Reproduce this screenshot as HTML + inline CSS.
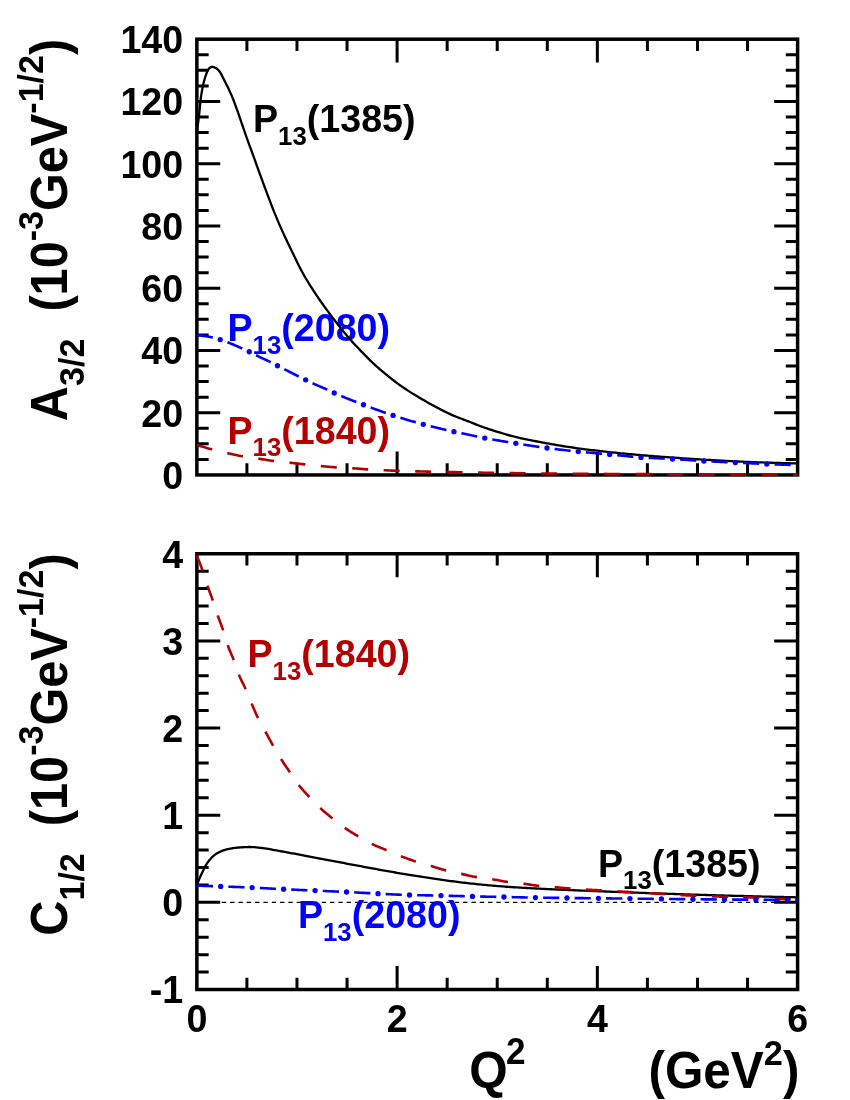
<!DOCTYPE html>
<html><head><meta charset="utf-8"><title>chart</title>
<style>html,body{margin:0;padding:0;background:#fff}svg{display:block;will-change:transform}text{font-family:"Liberation Sans",sans-serif;font-weight:bold}</style>
</head><body>
<svg width="850" height="1100" viewBox="0 0 850 1100">
<g id="top">
<rect x="196.85" y="39.2" width="600.75" height="435.75" fill="none" stroke="#000" stroke-width="3.5"/>
<path d="M246.91 474.95 v-11.8 M246.91 39.2 v11.8 M296.98 474.95 v-11.8 M296.98 39.2 v11.8 M347.04 474.95 v-11.8 M347.04 39.2 v11.8 M397.1 474.95 v-23.4 M397.1 39.2 v23.4 M447.16 474.95 v-11.8 M447.16 39.2 v11.8 M497.23 474.95 v-11.8 M497.23 39.2 v11.8 M547.29 474.95 v-11.8 M547.29 39.2 v11.8 M597.35 474.95 v-23.4 M597.35 39.2 v23.4 M647.41 474.95 v-11.8 M647.41 39.2 v11.8 M697.48 474.95 v-11.8 M697.48 39.2 v11.8 M747.54 474.95 v-11.8 M747.54 39.2 v11.8 M196.85 459.39 h11.8 M797.6 459.39 h-11.8 M196.85 443.82 h11.8 M797.6 443.82 h-11.8 M196.85 428.26 h11.8 M797.6 428.26 h-11.8 M196.85 412.7 h23.4 M797.6 412.7 h-23.4 M196.85 397.14 h11.8 M797.6 397.14 h-11.8 M196.85 381.57 h11.8 M797.6 381.57 h-11.8 M196.85 366.01 h11.8 M797.6 366.01 h-11.8 M196.85 350.45 h23.4 M797.6 350.45 h-23.4 M196.85 334.89 h11.8 M797.6 334.89 h-11.8 M196.85 319.32 h11.8 M797.6 319.32 h-11.8 M196.85 303.76 h11.8 M797.6 303.76 h-11.8 M196.85 288.2 h23.4 M797.6 288.2 h-23.4 M196.85 272.64 h11.8 M797.6 272.64 h-11.8 M196.85 257.07 h11.8 M797.6 257.07 h-11.8 M196.85 241.51 h11.8 M797.6 241.51 h-11.8 M196.85 225.95 h23.4 M797.6 225.95 h-23.4 M196.85 210.39 h11.8 M797.6 210.39 h-11.8 M196.85 194.82 h11.8 M797.6 194.82 h-11.8 M196.85 179.26 h11.8 M797.6 179.26 h-11.8 M196.85 163.7 h23.4 M797.6 163.7 h-23.4 M196.85 148.14 h11.8 M797.6 148.14 h-11.8 M196.85 132.57 h11.8 M797.6 132.57 h-11.8 M196.85 117.01 h11.8 M797.6 117.01 h-11.8 M196.85 101.45 h23.4 M797.6 101.45 h-23.4 M196.85 85.89 h11.8 M797.6 85.89 h-11.8 M196.85 70.32 h11.8 M797.6 70.32 h-11.8 M196.85 54.76 h11.8 M797.6 54.76 h-11.8" fill="none" stroke="#000" stroke-width="3"/>
<text transform="translate(183.2 488.75) scale(0.97 1)" font-size="38.8" text-anchor="end">0</text>
<text transform="translate(183.2 426.5) scale(0.97 1)" font-size="38.8" text-anchor="end">20</text>
<text transform="translate(183.2 364.25) scale(0.97 1)" font-size="38.8" text-anchor="end">40</text>
<text transform="translate(183.2 302) scale(0.97 1)" font-size="38.8" text-anchor="end">60</text>
<text transform="translate(183.2 239.75) scale(0.97 1)" font-size="38.8" text-anchor="end">80</text>
<text transform="translate(183.2 177.5) scale(0.97 1)" font-size="38.8" text-anchor="end">100</text>
<text transform="translate(183.2 115.25) scale(0.97 1)" font-size="38.8" text-anchor="end">120</text>
<text transform="translate(183.2 53) scale(0.97 1)" font-size="38.8" text-anchor="end">140</text>
<text transform="translate(67.4 38.8) scale(1.05 1) rotate(-90)" font-size="48.65" text-anchor="end" xml:space="preserve">A<tspan font-size="34.05" dy="15.85">3/2</tspan><tspan font-size="48.65" dy="-15.85">  (10</tspan><tspan font-size="34.05" dy="-23.2">-3</tspan><tspan font-size="48.65" dy="23.2">GeV</tspan><tspan font-size="34.05" dy="-23.2">-1/2</tspan><tspan font-size="48.65" dy="23.2">)</tspan></text>
<text transform="translate(253 132) scale(0.97 1)" font-size="38.8" fill="#000">P<tspan font-size="26.6" dy="12.9">13</tspan><tspan font-size="38.8" dy="-12.9">(1385)</tspan></text>
<text transform="translate(227.5 341.4) scale(0.97 1)" font-size="38.8" fill="#0000ff">P<tspan font-size="26.6" dy="12.9">13</tspan><tspan font-size="38.8" dy="-12.9">(2080)</tspan></text>
<text transform="translate(227.5 443.5) scale(0.97 1)" font-size="38.8" fill="#b40000">P<tspan font-size="26.6" dy="12.9">13</tspan><tspan font-size="38.8" dy="-12.9">(1840)</tspan></text>
<path d="M196.85 132.00 L196.93 131.50 L197.06 130.56 L197.24 129.32 L197.45 127.82 L197.69 126.06 L197.96 124.05 L198.24 121.80 L198.55 119.30 L198.88 116.54 L199.23 113.50 L199.59 110.10 L199.98 105.95 L200.37 101.78 L200.79 98.48 L201.22 95.44 L201.66 92.59 L202.12 89.93 L202.59 87.46 L203.08 85.15 L203.57 82.99 L204.09 80.96 L204.61 79.07 L205.14 77.30 L205.69 75.63 L206.25 74.02 L206.82 72.50 L207.40 71.16 L207.99 70.08 L208.59 69.12 L209.20 68.28 L209.83 67.70 L210.46 67.38 L211.10 67.12 L211.76 66.95 L212.42 66.90 L213.09 67.00 L213.77 67.21 L214.46 67.45 L215.16 67.72 L215.87 68.06 L216.59 68.49 L217.32 69.05 L218.05 69.75 L218.79 70.59 L219.55 71.53 L220.31 72.59 L221.08 73.89 L221.85 75.38 L222.64 76.98 L223.43 78.58 L224.23 80.13 L225.04 81.69 L225.86 83.28 L226.69 84.91 L227.52 86.59 L228.36 88.34 L229.21 90.14 L230.06 91.99 L230.92 93.91 L231.79 95.91 L232.67 98.02 L233.56 100.26 L234.45 102.62 L235.35 105.08 L236.25 107.58 L237.16 110.11 L238.08 112.70 L239.01 115.35 L239.94 118.04 L240.88 120.77 L241.83 123.52 L242.79 126.34 L243.75 129.17 L244.71 131.99 L245.69 134.77 L246.67 137.52 L247.65 140.27 L248.65 143.02 L249.64 145.77 L250.65 148.52 L251.66 151.27 L252.68 154.03 L253.70 156.84 L254.73 159.70 L255.77 162.60 L256.81 165.52 L257.86 168.45 L258.92 171.35 L259.98 174.26 L261.05 177.17 L262.12 180.09 L263.20 183.03 L264.28 185.98 L265.37 188.94 L266.47 191.89 L267.57 194.84 L268.68 197.77 L269.79 200.70 L270.91 203.65 L272.04 206.58 L273.17 209.49 L274.30 212.35 L275.45 215.17 L276.59 217.93 L277.75 220.66 L278.91 223.35 L280.07 226.02 L281.24 228.65 L282.41 231.27 L283.59 233.87 L284.78 236.44 L285.97 238.98 L287.17 241.50 L288.37 244.00 L289.57 246.49 L290.79 248.98 L292.00 251.47 L293.23 253.98 L294.45 256.52 L295.69 259.08 L296.92 261.63 L298.17 264.17 L299.42 266.67 L300.67 269.12 L301.93 271.48 L303.19 273.77 L304.46 276.02 L305.73 278.22 L307.01 280.38 L308.30 282.50 L309.58 284.60 L310.88 286.67 L312.18 288.71 L313.48 290.74 L314.79 292.74 L316.10 294.71 L317.42 296.65 L318.74 298.57 L320.07 300.47 L321.40 302.36 L322.74 304.24 L324.08 306.11 L325.42 307.97 L326.77 309.82 L328.13 311.65 L329.49 313.47 L330.86 315.29 L332.23 317.09 L333.60 318.89 L334.98 320.68 L336.36 322.47 L337.75 324.26 L339.14 326.05 L340.54 327.84 L341.94 329.62 L343.35 331.39 L344.76 333.13 L346.17 334.85 L347.59 336.53 L349.02 338.17 L350.45 339.79 L351.88 341.38 L353.32 342.95 L354.76 344.49 L356.21 346.03 L357.66 347.56 L359.11 349.08 L360.57 350.60 L362.04 352.12 L363.51 353.64 L364.98 355.15 L366.46 356.66 L367.94 358.15 L369.42 359.62 L370.91 361.08 L372.41 362.51 L373.90 363.91 L375.41 365.29 L376.91 366.64 L378.42 367.98 L379.94 369.30 L381.46 370.61 L382.98 371.89 L384.51 373.16 L386.04 374.42 L387.58 375.66 L389.12 376.89 L390.66 378.12 L392.21 379.33 L393.76 380.53 L395.32 381.72 L396.88 382.90 L398.45 384.06 L400.02 385.20 L401.59 386.33 L403.17 387.43 L404.75 388.51 L406.33 389.56 L407.92 390.60 L409.51 391.62 L411.11 392.63 L412.71 393.62 L414.32 394.60 L415.92 395.57 L417.54 396.54 L419.15 397.50 L420.77 398.46 L422.40 399.41 L424.03 400.36 L425.66 401.30 L427.30 402.23 L428.94 403.15 L430.58 404.07 L432.23 404.97 L433.88 405.87 L435.54 406.75 L437.20 407.63 L438.86 408.51 L440.53 409.39 L442.20 410.26 L443.87 411.12 L445.55 411.96 L447.23 412.79 L448.92 413.60 L450.61 414.38 L452.30 415.13 L454.00 415.85 L455.70 416.55 L457.41 417.23 L459.11 417.89 L460.83 418.53 L462.54 419.17 L464.26 419.81 L465.99 420.46 L467.71 421.11 L469.44 421.78 L471.18 422.47 L472.92 423.18 L474.66 423.90 L476.40 424.61 L478.15 425.30 L479.90 425.96 L481.66 426.60 L483.42 427.23 L485.18 427.84 L486.95 428.45 L488.72 429.05 L490.50 429.63 L492.27 430.21 L494.06 430.78 L495.84 431.34 L497.63 431.89 L499.42 432.43 L501.22 432.96 L503.02 433.49 L504.82 434.01 L506.63 434.53 L508.43 435.04 L510.25 435.54 L512.07 436.02 L513.89 436.50 L515.71 436.97 L517.54 437.42 L519.37 437.85 L521.20 438.27 L523.04 438.68 L524.88 439.07 L526.72 439.45 L528.57 439.82 L530.42 440.18 L532.28 440.54 L534.14 440.89 L536.00 441.25 L537.86 441.60 L539.73 441.95 L541.60 442.30 L543.48 442.66 L545.36 443.01 L547.24 443.36 L549.13 443.71 L551.02 444.05 L552.91 444.39 L554.80 444.72 L556.70 445.05 L558.60 445.37 L560.51 445.68 L562.42 445.99 L564.33 446.30 L566.25 446.60 L568.17 446.90 L570.09 447.19 L572.01 447.48 L573.94 447.76 L575.88 448.03 L577.81 448.30 L579.75 448.57 L581.69 448.82 L583.64 449.07 L585.59 449.31 L587.54 449.55 L589.49 449.79 L591.45 450.02 L593.41 450.24 L595.38 450.47 L597.34 450.70 L599.32 450.92 L601.29 451.15 L603.27 451.38 L605.25 451.60 L607.23 451.83 L609.22 452.06 L611.21 452.28 L613.20 452.50 L615.20 452.71 L617.20 452.92 L619.20 453.12 L621.21 453.32 L623.22 453.51 L625.23 453.70 L627.25 453.89 L629.27 454.07 L631.29 454.26 L633.32 454.44 L635.34 454.62 L637.38 454.80 L639.41 454.98 L641.45 455.15 L643.49 455.32 L645.53 455.50 L647.58 455.66 L649.63 455.83 L651.69 456.00 L653.74 456.16 L655.80 456.33 L657.86 456.49 L659.93 456.65 L662.00 456.80 L664.07 456.96 L666.15 457.12 L668.22 457.27 L670.30 457.42 L672.39 457.57 L674.48 457.72 L676.57 457.87 L678.66 458.02 L680.76 458.16 L682.86 458.31 L684.96 458.45 L687.06 458.59 L689.17 458.73 L691.28 458.87 L693.40 459.00 L695.52 459.14 L697.64 459.27 L699.76 459.40 L701.89 459.53 L704.01 459.65 L706.15 459.78 L708.28 459.90 L710.42 460.02 L712.56 460.14 L714.71 460.27 L716.85 460.39 L719.00 460.51 L721.16 460.62 L723.31 460.74 L725.47 460.86 L727.63 460.97 L729.80 461.09 L731.97 461.20 L734.14 461.30 L736.31 461.41 L738.49 461.51 L740.67 461.61 L742.85 461.71 L745.04 461.80 L747.23 461.89 L749.42 461.98 L751.61 462.06 L753.81 462.14 L756.01 462.22 L758.21 462.30 L760.42 462.38 L762.62 462.45 L764.84 462.53 L767.05 462.60 L769.27 462.67 L771.49 462.74 L773.71 462.81 L775.94 462.88 L778.17 462.94 L780.40 463.00 L782.63 463.06 L784.87 463.12 L787.11 463.18 L789.35 463.23 L791.60 463.28 L793.85 463.33 L796.10 463.37" fill="none" stroke="#000" stroke-width="2.3" stroke-linejoin="round"/>
<path d="M196.85 445.00 L196.86 445.00 L197.38 445.17 L198.24 445.44 L199.35 445.78 L200.65 446.18 L202.12 446.62 L203.74 447.10 L205.51 447.61 L207.40 448.15 L209.41 448.71 L211.54 449.28 L212.22 449.46 M227.29 453.07 L227.52 453.12 L228.92 453.44 L230.35 453.76 L231.79 454.09 L233.26 454.42 L234.75 454.75 L236.25 455.08 L237.78 455.40 L239.32 455.71 L240.88 456.02 L242.47 456.31 L242.94 456.39 M258.27 458.64 L258.57 458.68 L259.98 458.90 L261.40 459.12 L262.84 459.35 L264.28 459.58 L265.74 459.81 L267.20 460.04 L268.68 460.26 L270.17 460.48 L271.66 460.69 L273.17 460.89 L274.09 461.01 M289.51 462.66 L289.57 462.66 L291.19 462.84 L292.82 463.02 L294.45 463.21 L296.10 463.40 L297.75 463.59 L299.42 463.78 L301.09 463.96 L302.77 464.15 L304.46 464.34 L305.41 464.44 M320.82 466.08 L320.95 466.09 L322.29 466.21 L323.63 466.33 L324.97 466.45 L326.32 466.57 L327.68 466.69 L329.04 466.80 L330.40 466.92 L331.77 467.02 L333.14 467.13 L334.52 467.23 L335.90 467.33 L336.77 467.38 M352.24 468.24 L352.36 468.25 L353.80 468.35 L355.24 468.45 L356.69 468.56 L358.14 468.67 L359.60 468.79 L361.06 468.90 L362.53 469.02 L364.00 469.13 L365.47 469.23 L366.95 469.33 L368.20 469.41 M383.68 470.20 L384.00 470.22 L385.53 470.29 L387.07 470.37 L388.61 470.44 L390.15 470.51 L391.70 470.58 L393.25 470.65 L394.80 470.72 L396.36 470.78 L397.92 470.84 L399.49 470.90 L399.66 470.90 M415.16 471.30 L415.39 471.31 L417.00 471.35 L418.61 471.39 L420.23 471.44 L421.86 471.48 L423.48 471.52 L425.12 471.56 L426.75 471.60 L428.39 471.64 L430.03 471.68 L431.15 471.70 M446.65 471.99 L446.67 471.99 L448.36 472.03 L450.04 472.06 L451.74 472.09 L453.43 472.13 L455.13 472.16 L456.84 472.19 L458.54 472.23 L460.26 472.26 L461.97 472.29 L462.65 472.30 M478.14 472.60 L478.15 472.60 L479.90 472.63 L481.66 472.66 L483.42 472.70 L485.18 472.74 L486.95 472.77 L488.72 472.81 L490.50 472.84 L492.27 472.87 L494.06 472.90 L494.14 472.90 M509.64 473.11 L509.64 473.11 L510.85 473.12 L512.07 473.14 L513.28 473.15 L514.49 473.17 L515.71 473.18 L516.93 473.20 L518.15 473.21 L519.37 473.22 L520.59 473.24 L521.81 473.25 L523.04 473.26 L524.27 473.28 L525.49 473.29 L525.64 473.29 M541.14 473.44 L541.60 473.45 L542.85 473.46 L544.11 473.47 L545.36 473.48 L546.61 473.49 L547.87 473.50 L549.13 473.51 L550.39 473.52 L551.65 473.53 L552.91 473.54 L554.17 473.55 L555.44 473.56 L556.70 473.57 L557.14 473.58 M572.64 473.70 L572.66 473.70 L573.94 473.71 L575.23 473.72 L576.52 473.72 L577.81 473.73 L579.10 473.74 L580.40 473.75 L581.69 473.76 L582.99 473.77 L584.29 473.78 L585.59 473.79 L586.89 473.80 L588.19 473.81 L588.64 473.81 M604.14 473.91 L604.59 473.91 L605.91 473.92 L607.23 473.93 L608.56 473.93 L609.88 473.94 L611.21 473.95 L612.54 473.96 L613.87 473.96 L615.20 473.97 L616.53 473.98 L617.87 473.99 L619.20 473.99 L620.14 474.00 M635.64 474.08 L636.02 474.08 L637.38 474.09 L638.73 474.09 L640.09 474.10 L641.45 474.11 L642.81 474.11 L644.17 474.12 L645.53 474.13 L646.90 474.13 L648.26 474.14 L649.63 474.14 L651.00 474.15 L651.64 474.15 M667.14 474.22 L667.53 474.22 L668.92 474.22 L670.30 474.23 L671.69 474.23 L673.08 474.24 L674.48 474.25 L675.87 474.25 L677.26 474.26 L678.66 474.26 L680.06 474.27 L681.46 474.27 L682.86 474.28 L683.14 474.28 M698.64 474.33 L699.05 474.33 L700.47 474.34 L701.89 474.34 L703.30 474.35 L704.73 474.35 L706.15 474.36 L707.57 474.36 L709.00 474.37 L710.42 474.37 L711.85 474.37 L713.28 474.38 L714.64 474.38 M730.14 474.43 L730.52 474.43 L731.97 474.44 L733.41 474.44 L734.86 474.44 L736.31 474.45 L737.76 474.45 L739.22 474.46 L740.67 474.46 L742.12 474.46 L743.58 474.47 L745.04 474.47 L746.14 474.48 M761.64 474.52 L761.89 474.52 L763.36 474.52 L764.84 474.53 L766.31 474.53 L767.79 474.53 L769.27 474.54 L770.75 474.54 L772.23 474.54 L773.71 474.55 L775.19 474.55 L776.68 474.55 L777.64 474.56 M793.14 474.59 L793.85 474.59 L794.60 474.59 L795.35 474.60 L796.10 474.60 L796.85 474.60 L797.60 474.60" fill="none" stroke="#b40000" stroke-width="2.6"/>
<path d="M196.85 335.00 L196.86 335.00 L197.38 335.05 L198.24 335.13 L199.35 335.25 L200.65 335.41 L202.12 335.61 L203.74 335.86 L205.51 336.15 L207.40 336.49 L209.41 336.87 L211.54 337.30 L212.84 337.57 M227.41 342.16 L227.52 342.20 L228.92 342.76 L230.35 343.35 L231.79 343.95 L233.26 344.57 L234.75 345.21 L236.25 345.87 L237.78 346.55 L239.32 347.23 L240.88 347.93 L242.29 348.55 M256.05 355.23 L256.12 355.26 L257.51 355.95 L258.92 356.63 L260.33 357.31 L261.76 357.98 L263.20 358.66 L264.65 359.34 L266.10 360.03 L267.57 360.73 L269.05 361.44 L270.54 362.17 L270.66 362.23 M284.31 369.15 L284.38 369.19 L285.57 369.79 L286.77 370.40 L287.97 371.01 L289.17 371.63 L290.38 372.25 L291.60 372.87 L292.82 373.49 L294.04 374.11 L295.28 374.74 L296.51 375.36 L297.75 375.98 L298.76 376.48 M312.49 383.23 L312.61 383.28 L313.91 383.88 L315.22 384.47 L316.54 385.04 L317.86 385.61 L319.18 386.17 L320.51 386.73 L321.84 387.30 L323.18 387.87 L324.53 388.45 L325.87 389.04 L327.23 389.64 L327.34 389.70 M341.25 396.06 L341.47 396.15 L342.88 396.73 L344.29 397.31 L345.70 397.88 L347.12 398.45 L348.54 399.02 L349.97 399.58 L351.40 400.14 L352.84 400.70 L354.28 401.25 L355.72 401.81 L356.31 402.03 M370.61 407.45 L370.91 407.56 L372.41 408.12 L373.90 408.68 L375.41 409.24 L376.91 409.79 L378.42 410.34 L379.94 410.89 L381.46 411.44 L382.98 411.98 L384.51 412.52 L385.84 412.99 M400.38 417.75 L400.54 417.80 L402.11 418.29 L403.69 418.77 L405.27 419.26 L406.86 419.73 L408.45 420.21 L410.04 420.68 L411.64 421.14 L413.25 421.60 L414.85 422.06 L415.91 422.36 M430.70 426.27 L431.13 426.38 L432.78 426.79 L434.43 427.19 L436.09 427.59 L437.75 427.99 L439.41 428.38 L441.08 428.77 L442.75 429.16 L444.43 429.54 L446.11 429.93 L446.46 430.01 M461.41 433.25 L461.97 433.36 L463.12 433.59 L464.26 433.83 L465.41 434.06 L466.56 434.29 L467.71 434.53 L468.87 434.77 L470.02 435.00 L471.18 435.25 L472.34 435.49 L473.50 435.74 L474.66 435.99 L475.82 436.24 L476.99 436.49 L477.27 436.55 M492.29 439.45 L492.87 439.55 L494.06 439.76 L495.25 439.97 L496.44 440.18 L497.63 440.39 L498.82 440.59 L500.02 440.79 L501.22 441.00 L502.42 441.20 L503.62 441.40 L504.82 441.59 L506.02 441.79 L507.23 441.99 L508.27 442.16 M523.38 444.56 L523.65 444.61 L524.88 444.80 L526.11 444.99 L527.34 445.18 L528.57 445.37 L529.81 445.56 L531.04 445.74 L532.28 445.93 L533.52 446.12 L534.76 446.30 L536.00 446.48 L537.24 446.66 L538.49 446.84 L539.40 446.97 M554.57 448.95 L554.80 448.98 L556.07 449.13 L557.34 449.29 L558.60 449.44 L559.87 449.59 L561.15 449.73 L562.42 449.88 L563.69 450.03 L564.97 450.17 L566.25 450.31 L567.53 450.45 L568.81 450.59 L570.09 450.73 L570.66 450.80 M585.89 452.32 L586.24 452.35 L587.54 452.46 L588.84 452.58 L590.14 452.70 L591.45 452.81 L592.76 452.92 L594.07 453.04 L595.38 453.15 L596.69 453.26 L598.00 453.38 L599.32 453.49 L600.63 453.60 L601.95 453.72 L602.02 453.72 M617.26 455.16 L617.87 455.22 L619.20 455.36 L620.54 455.50 L621.88 455.64 L623.22 455.79 L624.56 455.93 L625.91 456.06 L627.25 456.20 L628.60 456.34 L629.94 456.47 L631.29 456.60 L632.64 456.73 L633.37 456.79 M648.64 457.85 L648.95 457.86 L650.32 457.93 L651.69 458.00 L653.06 458.07 L654.43 458.13 L655.80 458.20 L657.18 458.26 L658.55 458.32 L659.93 458.38 L661.31 458.45 L662.69 458.51 L664.07 458.57 L664.82 458.61 M680.09 459.47 L680.76 459.52 L682.16 459.61 L683.56 459.70 L684.96 459.80 L686.36 459.89 L687.77 459.99 L689.17 460.08 L690.58 460.18 L691.99 460.27 L693.40 460.37 L694.81 460.46 L696.22 460.55 L696.26 460.55 M711.53 461.43 L711.85 461.45 L713.28 461.52 L714.71 461.60 L716.14 461.67 L717.57 461.74 L719.00 461.81 L720.44 461.88 L721.88 461.95 L723.31 462.02 L724.75 462.09 L726.19 462.16 L727.63 462.23 L727.71 462.24 M743.00 462.95 L743.58 462.98 L745.04 463.05 L746.50 463.11 L747.96 463.18 L749.42 463.25 L750.88 463.31 L752.34 463.38 L753.81 463.44 L755.27 463.51 L756.74 463.57 L758.21 463.64 L759.18 463.68 M774.47 464.31 L775.19 464.34 L776.68 464.40 L778.17 464.46 L779.65 464.52 L781.14 464.58 L782.63 464.64 L784.12 464.70 L785.62 464.75 L787.11 464.81 L788.60 464.87 L790.10 464.92 L790.65 464.94" fill="none" stroke="#0000ff" stroke-width="2.6"/><g fill="#0000ff"><circle cx="220.22" cy="339.54" r="2.65"/><circle cx="249.25" cy="351.73" r="2.65"/><circle cx="277.46" cy="365.73" r="2.65"/><circle cx="305.64" cy="379.82" r="2.65"/><circle cx="334.23" cy="393.02" r="2.65"/><circle cx="363.46" cy="404.75" r="2.65"/><circle cx="393.09" cy="415.43" r="2.65"/><circle cx="423.29" cy="424.37" r="2.65"/><circle cx="453.93" cy="431.67" r="2.65"/><circle cx="484.77" cy="438.07" r="2.65"/><circle cx="515.82" cy="443.37" r="2.65"/><circle cx="546.98" cy="448.00" r="2.65"/><circle cx="578.27" cy="451.59" r="2.65"/><circle cx="609.64" cy="454.40" r="2.65"/><circle cx="641.00" cy="457.40" r="2.65"/><circle cx="672.46" cy="459.00" r="2.65"/><circle cx="703.89" cy="461.02" r="2.65"/><circle cx="735.35" cy="462.60" r="2.65"/><circle cx="766.82" cy="464.00" r="2.65"/></g>
</g>
<g id="bottom">
<rect x="196.85" y="553.75" width="600.75" height="435.75" fill="none" stroke="#000" stroke-width="3.5"/>
<path d="M246.91 989.5 v-11.8 M246.91 553.75 v11.8 M296.98 989.5 v-11.8 M296.98 553.75 v11.8 M347.04 989.5 v-11.8 M347.04 553.75 v11.8 M397.1 989.5 v-23.4 M397.1 553.75 v23.4 M447.16 989.5 v-11.8 M447.16 553.75 v11.8 M497.23 989.5 v-11.8 M497.23 553.75 v11.8 M547.29 989.5 v-11.8 M547.29 553.75 v11.8 M597.35 989.5 v-23.4 M597.35 553.75 v23.4 M647.41 989.5 v-11.8 M647.41 553.75 v11.8 M697.48 989.5 v-11.8 M697.48 553.75 v11.8 M747.54 989.5 v-11.8 M747.54 553.75 v11.8 M196.85 972.07 h11.8 M797.6 972.07 h-11.8 M196.85 954.64 h11.8 M797.6 954.64 h-11.8 M196.85 937.21 h11.8 M797.6 937.21 h-11.8 M196.85 919.78 h11.8 M797.6 919.78 h-11.8 M196.85 902.35 h23.4 M797.6 902.35 h-23.4 M196.85 884.92 h11.8 M797.6 884.92 h-11.8 M196.85 867.49 h11.8 M797.6 867.49 h-11.8 M196.85 850.06 h11.8 M797.6 850.06 h-11.8 M196.85 832.63 h11.8 M797.6 832.63 h-11.8 M196.85 815.2 h23.4 M797.6 815.2 h-23.4 M196.85 797.77 h11.8 M797.6 797.77 h-11.8 M196.85 780.34 h11.8 M797.6 780.34 h-11.8 M196.85 762.91 h11.8 M797.6 762.91 h-11.8 M196.85 745.48 h11.8 M797.6 745.48 h-11.8 M196.85 728.05 h23.4 M797.6 728.05 h-23.4 M196.85 710.62 h11.8 M797.6 710.62 h-11.8 M196.85 693.19 h11.8 M797.6 693.19 h-11.8 M196.85 675.76 h11.8 M797.6 675.76 h-11.8 M196.85 658.33 h11.8 M797.6 658.33 h-11.8 M196.85 640.9 h23.4 M797.6 640.9 h-23.4 M196.85 623.47 h11.8 M797.6 623.47 h-11.8 M196.85 606.04 h11.8 M797.6 606.04 h-11.8 M196.85 588.61 h11.8 M797.6 588.61 h-11.8 M196.85 571.18 h11.8 M797.6 571.18 h-11.8" fill="none" stroke="#000" stroke-width="3"/>
<text transform="translate(183.2 1003.3) scale(0.97 1)" font-size="38.8" text-anchor="end">-1</text>
<text transform="translate(183.2 916.15) scale(0.97 1)" font-size="38.8" text-anchor="end">0</text>
<text transform="translate(183.2 829) scale(0.97 1)" font-size="38.8" text-anchor="end">1</text>
<text transform="translate(183.2 741.85) scale(0.97 1)" font-size="38.8" text-anchor="end">2</text>
<text transform="translate(183.2 654.7) scale(0.97 1)" font-size="38.8" text-anchor="end">3</text>
<text transform="translate(183.2 567.55) scale(0.97 1)" font-size="38.8" text-anchor="end">4</text>
<text transform="translate(67.4 553.35) scale(1.05 1) rotate(-90)" font-size="48.65" text-anchor="end" xml:space="preserve">C<tspan font-size="34.05" dy="15.85">1/2</tspan><tspan font-size="48.65" dy="-15.85">  (10</tspan><tspan font-size="34.05" dy="-23.2">-3</tspan><tspan font-size="48.65" dy="23.2">GeV</tspan><tspan font-size="34.05" dy="-23.2">-1/2</tspan><tspan font-size="48.65" dy="23.2">)</tspan></text>
<path d="M196.85 902.35 H797.6" stroke="#000" stroke-width="1.3" stroke-dasharray="4.4 3.92" fill="none"/>
<text transform="translate(247.5 666.9) scale(0.97 1)" font-size="38.8" fill="#b40000">P<tspan font-size="26.6" dy="12.9">13</tspan><tspan font-size="38.8" dy="-12.9">(1840)</tspan></text>
<text transform="translate(598 876.5) scale(0.97 1)" font-size="38.8" fill="#000">P<tspan font-size="26.6" dy="12.9">13</tspan><tspan font-size="38.8" dy="-12.9">(1385)</tspan></text>
<text transform="translate(297.9 928.3) scale(0.97 1)" font-size="38.8" fill="#0000ff">P<tspan font-size="26.6" dy="12.9">13</tspan><tspan font-size="38.8" dy="-12.9">(2080)</tspan></text>
<path d="M196.85 885.00 L196.93 884.81 L197.06 884.46 L197.24 884.01 L197.45 883.47 L197.69 882.88 L197.96 882.22 L198.24 881.51 L198.55 880.76 L198.88 879.97 L199.23 879.14 L199.59 878.29 L199.98 877.40 L200.37 876.50 L200.79 875.58 L201.22 874.65 L201.66 873.70 L202.12 872.75 L202.59 871.78 L203.08 870.78 L203.57 869.76 L204.09 868.73 L204.61 867.70 L205.14 866.67 L205.69 865.66 L206.25 864.67 L206.82 863.73 L207.40 862.84 L207.99 862.01 L208.59 861.23 L209.20 860.47 L209.83 859.71 L210.46 858.97 L211.10 858.25 L211.76 857.56 L212.42 856.89 L213.09 856.25 L213.77 855.65 L214.46 855.08 L215.16 854.56 L215.87 854.08 L216.59 853.64 L217.32 853.21 L218.05 852.80 L218.79 852.40 L219.55 852.02 L220.31 851.65 L221.08 851.30 L221.85 850.97 L222.64 850.65 L223.43 850.36 L224.23 850.10 L225.04 849.85 L225.86 849.63 L226.69 849.43 L227.52 849.24 L228.36 849.05 L229.21 848.87 L230.06 848.70 L230.92 848.54 L231.79 848.38 L232.67 848.24 L233.56 848.10 L234.45 847.98 L235.35 847.86 L236.25 847.76 L237.16 847.67 L238.08 847.59 L239.01 847.52 L239.94 847.45 L240.88 847.38 L241.83 847.32 L242.79 847.26 L243.75 847.20 L244.71 847.15 L245.69 847.10 L246.67 847.06 L247.65 847.03 L248.65 847.01 L249.64 847.00 L250.65 847.00 L251.66 847.03 L252.68 847.08 L253.70 847.14 L254.73 847.22 L255.77 847.31 L256.81 847.42 L257.86 847.53 L258.92 847.65 L259.98 847.77 L261.05 847.89 L262.12 848.01 L263.20 848.14 L264.28 848.28 L265.37 848.44 L266.47 848.60 L267.57 848.78 L268.68 848.97 L269.79 849.16 L270.91 849.37 L272.04 849.58 L273.17 849.79 L274.30 850.01 L275.45 850.22 L276.59 850.44 L277.75 850.66 L278.91 850.87 L280.07 851.08 L281.24 851.29 L282.41 851.50 L283.59 851.71 L284.78 851.93 L285.97 852.14 L287.17 852.36 L288.37 852.58 L289.57 852.81 L290.79 853.03 L292.00 853.26 L293.23 853.49 L294.45 853.71 L295.69 853.94 L296.92 854.18 L298.17 854.41 L299.42 854.64 L300.67 854.87 L301.93 855.11 L303.19 855.35 L304.46 855.59 L305.73 855.83 L307.01 856.07 L308.30 856.31 L309.58 856.55 L310.88 856.80 L312.18 857.04 L313.48 857.29 L314.79 857.54 L316.10 857.79 L317.42 858.04 L318.74 858.29 L320.07 858.54 L321.40 858.80 L322.74 859.05 L324.08 859.31 L325.42 859.56 L326.77 859.82 L328.13 860.08 L329.49 860.34 L330.86 860.60 L332.23 860.86 L333.60 861.12 L334.98 861.39 L336.36 861.65 L337.75 861.91 L339.14 862.18 L340.54 862.44 L341.94 862.71 L343.35 862.97 L344.76 863.24 L346.17 863.51 L347.59 863.78 L349.02 864.05 L350.45 864.32 L351.88 864.59 L353.32 864.86 L354.76 865.13 L356.21 865.40 L357.66 865.67 L359.11 865.94 L360.57 866.22 L362.04 866.49 L363.51 866.76 L364.98 867.04 L366.46 867.31 L367.94 867.59 L369.42 867.86 L370.91 868.13 L372.41 868.41 L373.90 868.68 L375.41 868.96 L376.91 869.23 L378.42 869.51 L379.94 869.78 L381.46 870.05 L382.98 870.32 L384.51 870.60 L386.04 870.87 L387.58 871.14 L389.12 871.41 L390.66 871.69 L392.21 871.96 L393.76 872.23 L395.32 872.50 L396.88 872.77 L398.45 873.04 L400.02 873.30 L401.59 873.57 L403.17 873.84 L404.75 874.10 L406.33 874.37 L407.92 874.63 L409.51 874.90 L411.11 875.16 L412.71 875.42 L414.32 875.68 L415.92 875.94 L417.54 876.20 L419.15 876.46 L420.77 876.71 L422.40 876.97 L424.03 877.22 L425.66 877.47 L427.30 877.72 L428.94 877.97 L430.58 878.22 L432.23 878.46 L433.88 878.71 L435.54 878.95 L437.20 879.19 L438.86 879.43 L440.53 879.66 L442.20 879.90 L443.87 880.13 L445.55 880.36 L447.23 880.59 L448.92 880.81 L450.61 881.04 L452.30 881.26 L454.00 881.48 L455.70 881.70 L457.41 881.91 L459.11 882.12 L460.83 882.33 L462.54 882.54 L464.26 882.74 L465.99 882.94 L467.71 883.14 L469.44 883.34 L471.18 883.53 L472.92 883.72 L474.66 883.91 L476.40 884.09 L478.15 884.27 L479.90 884.45 L481.66 884.62 L483.42 884.79 L485.18 884.96 L486.95 885.12 L488.72 885.28 L490.50 885.44 L492.27 885.60 L494.06 885.75 L495.84 885.90 L497.63 886.04 L499.42 886.18 L501.22 886.32 L503.02 886.46 L504.82 886.60 L506.63 886.73 L508.43 886.86 L510.25 886.98 L512.07 887.11 L513.89 887.23 L515.71 887.35 L517.54 887.47 L519.37 887.58 L521.20 887.69 L523.04 887.80 L524.88 887.91 L526.72 888.02 L528.57 888.12 L530.42 888.22 L532.28 888.32 L534.14 888.42 L536.00 888.52 L537.86 888.62 L539.73 888.71 L541.60 888.80 L543.48 888.90 L545.36 888.99 L547.24 889.08 L549.13 889.17 L551.02 889.25 L552.91 889.34 L554.80 889.42 L556.70 889.51 L558.60 889.59 L560.51 889.67 L562.42 889.75 L564.33 889.83 L566.25 889.91 L568.17 889.99 L570.09 890.07 L572.01 890.15 L573.94 890.24 L575.88 890.32 L577.81 890.40 L579.75 890.48 L581.69 890.56 L583.64 890.64 L585.59 890.72 L587.54 890.79 L589.49 890.87 L591.45 890.95 L593.41 891.03 L595.38 891.11 L597.34 891.19 L599.32 891.26 L601.29 891.34 L603.27 891.42 L605.25 891.50 L607.23 891.57 L609.22 891.65 L611.21 891.73 L613.20 891.80 L615.20 891.88 L617.20 891.96 L619.20 892.03 L621.21 892.11 L623.22 892.18 L625.23 892.26 L627.25 892.33 L629.27 892.41 L631.29 892.48 L633.32 892.56 L635.34 892.63 L637.38 892.71 L639.41 892.78 L641.45 892.85 L643.49 892.93 L645.53 893.00 L647.58 893.07 L649.63 893.14 L651.69 893.21 L653.74 893.29 L655.80 893.36 L657.86 893.43 L659.93 893.50 L662.00 893.57 L664.07 893.64 L666.15 893.71 L668.22 893.78 L670.30 893.85 L672.39 893.92 L674.48 893.99 L676.57 894.06 L678.66 894.13 L680.76 894.19 L682.86 894.26 L684.96 894.33 L687.06 894.40 L689.17 894.46 L691.28 894.53 L693.40 894.60 L695.52 894.66 L697.64 894.73 L699.76 894.79 L701.89 894.86 L704.01 894.92 L706.15 894.99 L708.28 895.05 L710.42 895.11 L712.56 895.18 L714.71 895.24 L716.85 895.30 L719.00 895.36 L721.16 895.43 L723.31 895.49 L725.47 895.55 L727.63 895.61 L729.80 895.67 L731.97 895.73 L734.14 895.79 L736.31 895.85 L738.49 895.91 L740.67 895.97 L742.85 896.02 L745.04 896.08 L747.23 896.14 L749.42 896.20 L751.61 896.25 L753.81 896.31 L756.01 896.36 L758.21 896.42 L760.42 896.47 L762.62 896.53 L764.84 896.58 L767.05 896.63 L769.27 896.69 L771.49 896.74 L773.71 896.79 L775.94 896.84 L778.17 896.89 L780.40 896.94 L782.63 896.99 L784.87 897.04 L787.11 897.09 L789.35 897.14 L791.60 897.19 L793.85 897.24 L796.10 897.29" fill="none" stroke="#000" stroke-width="2.3" stroke-linejoin="round"/>
<path d="M196.85 555.90 L196.86 555.93 L197.06 556.38 L197.38 557.11 L197.78 558.04 L198.24 559.16 L198.77 560.44 L199.35 561.88 L199.98 563.49 L200.65 565.24 L201.36 567.16 L202.12 569.22 L202.68 570.80 M207.45 585.54 L207.59 585.98 L207.99 587.13 L208.39 588.28 L208.80 589.42 L209.20 590.56 L209.62 591.70 L210.04 592.85 L210.46 594.01 L210.89 595.19 L211.32 596.38 L211.76 597.60 L212.20 598.84 L212.64 600.12 L212.81 600.62 M217.71 615.32 L217.80 615.59 L218.30 616.98 L218.79 618.36 L219.30 619.72 L219.80 621.09 L220.31 622.46 L220.82 623.85 L221.33 625.25 L221.85 626.70 L222.38 628.18 L222.90 629.71 L223.13 630.38 M227.71 645.18 L227.80 645.43 L228.36 646.98 L228.92 648.45 L229.49 649.86 L230.06 651.22 L230.64 652.56 L231.21 653.89 L231.79 655.22 L232.38 656.58 L232.97 657.98 L233.56 659.45 L233.77 659.99 M238.85 674.63 L239.01 675.03 L239.63 676.51 L240.26 677.92 L240.88 679.27 L241.52 680.58 L242.15 681.86 L242.79 683.13 L243.42 684.41 L244.07 685.71 L244.71 687.06 L245.36 688.46 L245.65 689.11 M251.56 703.44 L251.66 703.68 L252.34 705.26 L253.02 706.86 L253.70 708.46 L254.39 710.06 L255.08 711.64 L255.77 713.21 L256.47 714.75 L257.16 716.26 L257.86 717.72 L258.03 718.07 M265.43 731.69 L265.74 732.25 L266.47 733.61 L267.20 734.97 L267.94 736.35 L268.68 737.73 L269.42 739.11 L270.17 740.49 L270.91 741.86 L271.66 743.22 L272.41 744.57 L273.08 745.74 M281.04 759.04 L281.24 759.35 L282.02 760.57 L282.81 761.78 L283.59 762.98 L284.38 764.16 L285.18 765.34 L285.97 766.51 L286.77 767.68 L287.57 768.85 L288.37 770.02 L289.17 771.19 L289.95 772.33 M298.75 785.08 L299.00 785.40 L299.83 786.44 L300.67 787.45 L301.51 788.43 L302.35 789.40 L303.19 790.35 L304.04 791.28 L304.88 792.20 L305.73 793.11 L306.59 794.02 L307.44 794.92 L308.30 795.83 L309.15 796.74 L309.41 797.01 M320.25 808.08 L320.51 808.32 L321.40 809.13 L322.29 809.94 L323.18 810.73 L324.08 811.51 L324.97 812.29 L325.87 813.05 L326.77 813.81 L327.68 814.56 L328.58 815.31 L329.49 816.05 L330.40 816.79 L331.31 817.52 L332.23 818.26 L332.44 818.43 M344.76 827.83 L345.23 828.16 L346.65 829.13 L348.07 830.07 L349.50 831.01 L350.93 831.92 L352.36 832.82 L353.80 833.72 L355.24 834.60 L356.69 835.47 L358.14 836.33 L358.27 836.40 M371.82 843.91 L371.91 843.96 L373.40 844.66 L374.91 845.35 L376.41 846.01 L377.92 846.65 L379.43 847.29 L380.95 847.91 L382.47 848.53 L384.00 849.16 L385.53 849.79 L386.53 850.20 M400.83 856.18 L401.06 856.27 L402.64 856.87 L404.22 857.47 L405.80 858.06 L407.39 858.64 L408.98 859.21 L410.58 859.78 L412.18 860.33 L413.78 860.87 L415.39 861.40 L415.90 861.57 M430.77 865.93 L431.13 866.04 L432.23 866.37 L433.33 866.71 L434.43 867.05 L435.54 867.39 L436.64 867.74 L437.75 868.09 L438.86 868.43 L439.97 868.78 L441.08 869.11 L442.20 869.45 L443.31 869.77 L444.43 870.08 L445.55 870.38 L446.09 870.52 M461.23 873.84 L461.40 873.87 L462.54 874.12 L463.69 874.37 L464.84 874.63 L465.99 874.89 L467.14 875.15 L468.29 875.42 L469.44 875.68 L470.60 875.93 L471.76 876.19 L472.92 876.43 L474.08 876.66 L475.24 876.89 L476.40 877.10 L476.88 877.18 M492.23 879.28 L492.27 879.29 L493.46 879.47 L494.65 879.67 L495.84 879.87 L497.03 880.09 L498.23 880.31 L499.42 880.53 L500.62 880.76 L501.82 880.98 L503.02 881.20 L504.22 881.41 L505.42 881.61 L506.63 881.80 L507.83 881.98 L508.00 882.00 M523.41 883.68 L523.65 883.71 L524.88 883.86 L526.11 884.03 L527.34 884.21 L528.57 884.40 L529.81 884.59 L531.04 884.79 L532.28 884.99 L533.52 885.19 L534.76 885.38 L536.00 885.56 L537.24 885.73 L538.49 885.88 L539.24 885.96 M554.70 887.13 L554.80 887.14 L556.07 887.24 L557.34 887.35 L558.60 887.46 L559.87 887.58 L561.15 887.70 L562.42 887.83 L563.69 887.95 L564.97 888.07 L566.25 888.19 L567.53 888.30 L568.81 888.41 L570.09 888.51 L570.64 888.55 M586.10 889.56 L586.24 889.56 L587.54 889.64 L588.84 889.71 L590.14 889.79 L591.45 889.86 L592.76 889.94 L594.07 890.01 L595.38 890.09 L596.69 890.16 L598.00 890.24 L599.32 890.31 L600.63 890.39 L601.95 890.47 L602.08 890.47 M617.55 891.37 L617.87 891.39 L619.20 891.47 L620.54 891.54 L621.88 891.62 L623.22 891.69 L624.56 891.77 L625.91 891.84 L627.25 891.92 L628.60 892.00 L629.94 892.07 L631.29 892.15 L632.64 892.22 L633.52 892.27 M649.00 893.14 L649.63 893.18 L651.00 893.26 L652.37 893.34 L653.74 893.42 L655.11 893.50 L656.49 893.58 L657.86 893.67 L659.24 893.75 L660.62 893.83 L662.00 893.92 L663.38 894.00 L664.76 894.09 L664.97 894.10 M680.44 895.02 L680.76 895.04 L682.16 895.12 L683.56 895.19 L684.96 895.27 L686.36 895.34 L687.77 895.41 L689.17 895.47 L690.58 895.54 L691.99 895.60 L693.40 895.66 L694.81 895.72 L696.22 895.78 L696.43 895.78 M711.92 896.34 L712.56 896.36 L713.99 896.41 L715.42 896.45 L716.85 896.50 L718.29 896.55 L719.72 896.59 L721.16 896.64 L722.59 896.68 L724.03 896.72 L725.47 896.76 L726.91 896.80 L727.91 896.83 M743.40 897.23 L743.58 897.23 L745.04 897.28 L746.50 897.32 L747.96 897.36 L749.42 897.41 L750.88 897.46 L752.34 897.51 L753.81 897.57 L755.27 897.63 L756.74 897.69 L758.21 897.76 L759.39 897.82 M774.87 898.65 L775.19 898.67 L776.68 898.74 L778.17 898.81 L779.65 898.87 L781.14 898.93 L782.63 898.99 L784.12 899.04 L785.62 899.09 L787.11 899.13 L788.60 899.18 L790.10 899.22 L790.86 899.24" fill="none" stroke="#b40000" stroke-width="2.6"/>
<path d="M196.85 885.60 L196.86 885.60 L197.38 885.62 L198.24 885.65 L199.35 885.68 L200.65 885.72 L202.12 885.77 L203.74 885.83 L205.51 885.88 L207.40 885.95 L209.41 886.02 L211.54 886.09 L213.04 886.14 M228.33 886.68 L228.36 886.68 L229.78 886.73 L231.21 886.79 L232.67 886.84 L234.15 886.89 L235.65 886.95 L237.16 887.01 L238.70 887.06 L240.26 887.12 L241.83 887.18 L243.42 887.25 L244.52 887.29 M259.80 887.97 L259.98 887.98 L261.40 888.05 L262.84 888.13 L264.28 888.20 L265.74 888.28 L267.20 888.36 L268.68 888.44 L270.17 888.52 L271.66 888.60 L273.17 888.68 L274.68 888.76 L275.98 888.83 M291.26 889.56 L291.60 889.58 L293.23 889.65 L294.86 889.72 L296.51 889.79 L298.17 889.87 L299.83 889.94 L301.51 890.01 L303.19 890.09 L304.88 890.16 L306.59 890.23 L307.45 890.27 M322.73 890.94 L322.74 890.94 L324.08 891.00 L325.42 891.06 L326.77 891.12 L328.13 891.18 L329.49 891.24 L330.86 891.30 L332.23 891.36 L333.60 891.42 L334.98 891.48 L336.36 891.54 L337.75 891.60 L338.92 891.65 M354.20 892.37 L354.28 892.37 L355.72 892.45 L357.17 892.53 L358.63 892.60 L360.09 892.68 L361.55 892.76 L363.02 892.84 L364.49 892.92 L365.96 893.00 L367.44 893.08 L368.93 893.17 L370.38 893.25 M385.66 894.07 L386.04 894.09 L387.58 894.16 L389.12 894.24 L390.66 894.31 L392.21 894.38 L393.76 894.45 L395.32 894.52 L396.88 894.59 L398.45 894.65 L400.02 894.71 L401.59 894.77 L401.84 894.78 M417.13 895.18 L417.54 895.19 L419.15 895.22 L420.77 895.25 L422.40 895.28 L424.03 895.30 L425.66 895.33 L427.30 895.36 L428.94 895.39 L430.58 895.41 L432.23 895.44 L433.33 895.46 M448.63 895.79 L448.92 895.80 L450.61 895.84 L452.30 895.89 L454.00 895.93 L455.70 895.98 L457.41 896.02 L459.11 896.07 L460.83 896.12 L462.54 896.16 L464.26 896.21 L464.82 896.22 M480.12 896.56 L480.49 896.57 L481.66 896.59 L482.83 896.61 L484.01 896.63 L485.18 896.65 L486.36 896.68 L487.54 896.70 L488.72 896.72 L489.90 896.74 L491.09 896.76 L492.27 896.78 L493.46 896.81 L494.65 896.83 L495.84 896.85 L496.32 896.86 M511.61 897.15 L512.07 897.16 L513.28 897.18 L514.49 897.21 L515.71 897.23 L516.93 897.26 L518.15 897.28 L519.37 897.31 L520.59 897.33 L521.81 897.35 L523.04 897.38 L524.27 897.40 L525.49 897.43 L526.72 897.45 L527.81 897.47 M543.11 897.71 L543.48 897.71 L544.73 897.73 L545.99 897.75 L547.24 897.76 L548.50 897.78 L549.76 897.80 L551.02 897.81 L552.28 897.83 L553.54 897.84 L554.80 897.86 L556.07 897.88 L557.34 897.89 L558.60 897.91 L559.31 897.91 M574.61 898.08 L575.23 898.08 L576.52 898.10 L577.81 898.11 L579.10 898.12 L580.40 898.13 L581.69 898.15 L582.99 898.16 L584.29 898.17 L585.59 898.18 L586.89 898.19 L588.19 898.21 L589.49 898.22 L590.80 898.23 L590.81 898.23 M606.10 898.37 L606.57 898.38 L607.90 898.39 L609.22 898.40 L610.55 898.42 L611.88 898.43 L613.20 898.44 L614.54 898.46 L615.87 898.47 L617.20 898.48 L618.54 898.50 L619.87 898.51 L621.21 898.52 L622.30 898.53 M637.60 898.69 L638.05 898.69 L639.41 898.71 L640.77 898.72 L642.13 898.73 L643.49 898.75 L644.85 898.76 L646.22 898.78 L647.58 898.79 L648.95 898.80 L650.32 898.82 L651.69 898.83 L653.06 898.84 L653.80 898.85 M669.10 899.00 L669.61 899.01 L671.00 899.02 L672.39 899.04 L673.78 899.05 L675.17 899.06 L676.57 899.08 L677.96 899.09 L679.36 899.10 L680.76 899.12 L682.16 899.13 L683.56 899.14 L684.96 899.16 L685.30 899.16 M700.60 899.30 L701.18 899.31 L702.59 899.32 L704.01 899.33 L705.44 899.34 L706.86 899.36 L708.28 899.37 L709.71 899.38 L711.13 899.39 L712.56 899.41 L713.99 899.42 L715.42 899.43 L716.80 899.44 M732.10 899.56 L732.69 899.57 L734.14 899.58 L735.59 899.59 L737.04 899.60 L738.49 899.61 L739.94 899.62 L741.40 899.63 L742.85 899.64 L744.31 899.65 L745.77 899.66 L747.23 899.67 L748.30 899.68 M763.60 899.79 L764.10 899.79 L765.57 899.80 L767.05 899.81 L768.53 899.82 L770.01 899.83 L771.49 899.84 L772.97 899.85 L774.45 899.86 L775.94 899.87 L777.42 899.88 L778.91 899.89 L779.80 899.89 M795.10 899.99 L795.35 899.99 L796.10 899.99 L796.85 900.00 L797.60 900.00" fill="none" stroke="#0000ff" stroke-width="2.6"/><g fill="#0000ff"><circle cx="220.69" cy="886.41" r="2.65"/><circle cx="252.16" cy="887.61" r="2.65"/><circle cx="283.62" cy="889.21" r="2.65"/><circle cx="315.09" cy="890.60" r="2.65"/><circle cx="346.56" cy="892.00" r="2.65"/><circle cx="378.02" cy="893.67" r="2.65"/><circle cx="409.49" cy="895.01" r="2.65"/><circle cx="440.98" cy="895.61" r="2.65"/><circle cx="472.47" cy="896.40" r="2.65"/><circle cx="503.97" cy="897.00" r="2.65"/><circle cx="535.46" cy="897.60" r="2.65"/><circle cx="566.96" cy="898.00" r="2.65"/><circle cx="598.46" cy="898.30" r="2.65"/><circle cx="629.95" cy="898.61" r="2.65"/><circle cx="661.45" cy="898.93" r="2.65"/><circle cx="692.95" cy="899.23" r="2.65"/><circle cx="724.45" cy="899.50" r="2.65"/><circle cx="755.95" cy="899.73" r="2.65"/><circle cx="787.45" cy="899.94" r="2.65"/></g>
<text transform="translate(196.85 1032.2) scale(0.97 1)" font-size="38.8" text-anchor="middle">0</text>
<text transform="translate(397.1 1032.2) scale(0.97 1)" font-size="38.8" text-anchor="middle">2</text>
<text transform="translate(597.35 1032.2) scale(0.97 1)" font-size="38.8" text-anchor="middle">4</text>
<text transform="translate(797.6 1032.2) scale(0.97 1)" font-size="38.8" text-anchor="middle">6</text>
</g>
<text transform="translate(469.2 1087.6) scale(0.96 1)" font-size="51.5">Q<tspan font-size="36.6" dx="-1.6" dy="-23.7">2</tspan></text>
<text transform="translate(799.4 1087.6) scale(0.96 1)" font-size="51.5" text-anchor="end">(GeV<tspan font-size="35.8" dy="-22.8">2</tspan><tspan font-size="51.5" dy="22.8">)</tspan></text>
</svg></body></html>
